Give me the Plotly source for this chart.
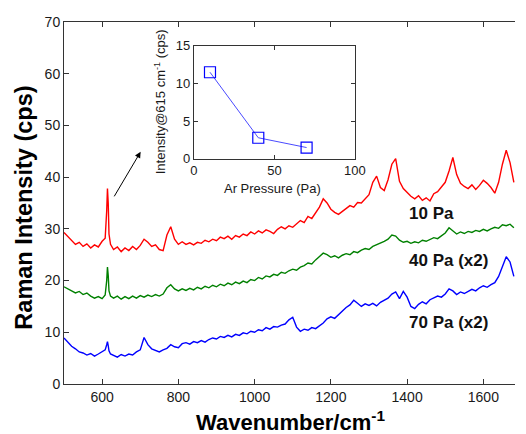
import plotly.graph_objects as go

# ---------------- data ----------------
wavenumber = [500, 510, 520, 530, 540, 550, 560, 570, 580, 590, 600,
              608, 612, 614, 616, 618, 622,
              630, 640, 650, 660, 670, 680, 690, 700, 710, 720, 730, 740, 750, 760, 770, 780, 790,
              800, 810, 820, 830, 840, 850, 860, 870, 880, 890, 900, 910, 920, 930, 940, 950, 960, 970, 980, 990,
              1000, 1010, 1020, 1030, 1040, 1050, 1060, 1070, 1080, 1090, 1100, 1110, 1120, 1130, 1140, 1150,
              1160, 1170, 1180, 1190, 1200, 1210, 1220, 1230, 1240, 1250, 1260, 1270, 1280, 1290, 1300,
              1310, 1320, 1330, 1340, 1350, 1360, 1370, 1380, 1390, 1400, 1410, 1420, 1430, 1440, 1450,
              1460, 1470, 1480, 1490, 1500, 1510, 1520, 1530, 1540, 1550, 1560, 1570, 1580, 1590, 1600,
              1610, 1620, 1630, 1640, 1650, 1660, 1670, 1680]

int_10pa = [29.3, 28.6, 27.8, 27.0, 27.4, 26.6, 27.1, 26.3, 26.9, 26.5, 27.6,
            28.2, 33.5, 37.8, 35.0, 29.0, 27.0,
            26.0, 26.5, 25.6, 26.3, 25.8, 26.6, 26.0, 26.8, 28.0, 27.4, 26.6, 26.9, 26.0, 25.8, 28.8, 30.4, 28.0,
            27.0, 27.5, 27.0, 27.3, 26.9, 27.4, 27.2, 27.8, 27.5, 28.0, 27.7, 28.4, 28.1, 28.6, 28.0, 28.7, 28.4, 29.0, 28.7, 29.4,
            29.0, 29.6, 29.2, 29.8, 29.5, 29.1, 29.9, 30.4, 30.0, 30.6, 30.3, 31.0, 31.6, 31.2, 32.4, 32.0,
            33.0, 34.2, 35.8, 35.0, 33.8, 33.2, 32.8, 33.4, 33.9, 34.5, 34.2, 35.1, 35.0, 35.8, 36.6,
            39.0, 40.2, 38.0, 37.4, 39.5, 42.5, 43.6, 39.2, 37.8, 37.0, 36.3, 35.8, 36.4, 35.5, 36.0,
            35.4, 36.8, 37.2, 38.0, 39.0, 41.2, 43.8, 40.5, 38.8, 38.2, 37.8, 38.5, 37.6, 38.4, 39.4,
            38.8, 38.0, 36.9, 39.0, 42.5, 45.2, 42.8, 39.0]

int_40pa = [18.8, 18.4, 18.0, 17.6, 17.9, 17.3, 17.6, 17.0, 16.6, 16.9, 16.5,
            17.2, 20.0, 22.6, 21.0, 18.0, 17.0,
            16.6, 17.0, 16.4, 16.9, 16.5, 17.0, 16.6, 17.1, 16.8, 17.2, 16.9, 17.3, 17.0, 17.4, 18.6, 19.2, 18.4,
            18.0, 18.4, 18.1, 18.5, 18.2, 18.7, 18.4, 18.9, 18.6, 19.1, 18.8, 19.3, 19.0, 19.5, 19.2, 19.7, 19.4, 19.9, 19.6, 20.2,
            20.0, 20.6, 20.3, 20.9, 20.7, 21.2, 21.0, 21.6, 21.4, 21.9, 22.2, 22.0, 22.6, 22.9, 23.4, 23.2,
            24.0, 24.6, 25.3, 25.0, 24.5, 24.8, 24.4, 24.9, 25.2, 25.0, 25.6, 25.4, 25.9, 26.2, 26.0,
            26.6, 26.9, 27.2, 27.6, 28.0, 28.8, 28.6, 27.8, 27.4, 27.6, 27.2, 27.5, 27.3, 27.8, 27.6,
            28.0, 28.3, 28.1, 28.6, 29.2, 30.2, 29.6, 29.0, 29.4, 29.1, 29.5, 29.3, 29.7, 29.5, 29.9,
            29.6, 30.0, 30.3, 30.1, 30.8, 30.6, 30.9, 30.2]

int_70pa = [8.9, 8.0, 7.3, 6.8, 6.2, 6.0, 5.6, 5.9, 5.4, 5.8, 6.3,
            6.6, 7.6, 8.2, 7.4, 6.4, 5.8,
            5.5, 5.2, 5.7, 5.4, 5.8, 5.6, 6.2, 6.6, 9.0, 7.6, 6.8, 6.5, 6.2, 6.6, 6.9, 7.6, 7.2,
            7.0, 7.8, 8.0, 7.7, 8.2, 8.0, 8.4, 8.1, 8.6, 8.9, 8.7, 9.2, 9.0, 9.4, 9.1, 9.6, 9.4, 9.9, 9.7, 10.2,
            10.0, 10.5, 10.3, 10.9, 10.6, 11.1, 11.0, 11.4, 11.6, 12.4, 12.9, 11.0, 10.2, 10.6, 10.4, 10.9,
            10.7, 11.3, 11.8, 12.6, 13.0, 12.7, 13.4, 14.2, 14.8, 15.3, 16.2, 15.6, 15.0, 15.5, 15.2,
            15.6, 15.1, 15.8, 16.2, 16.6, 17.4, 17.8, 16.5, 17.9, 16.8, 15.0, 14.6, 15.4, 15.9, 15.5,
            16.3, 16.6, 17.0, 16.8, 17.4, 18.4, 18.0, 17.3, 17.8, 17.5, 17.9, 18.3, 18.0, 18.6, 19.0,
            18.7, 19.2, 19.6, 20.8, 22.8, 24.6, 23.6, 20.8]

series_names = ["10 Pa", "40 Pa (x2)", "70 Pa (x2)"]
series_colors = ["#ff0000", "#008000", "#0000ff"]

pressure = [10, 40, 70]
peak_615 = [11.5, 2.8, 1.5]

main_xticks = [600, 800, 1000, 1200, 1400, 1600]
main_yticks = [0, 10, 20, 30, 40, 50, 60, 70]
inset_xticks = [0, 50, 100]
inset_yticks = [0, 5, 10, 15]

# ---------------- figure ----------------
FONT = "Liberation Sans, Arial, sans-serif"
AX = "#333333"
TXT = "#1a1a1a"

fig = go.Figure()
for y, name, col in zip([int_10pa, int_40pa, int_70pa], series_names, series_colors):
    fig.add_trace(go.Scatter(x=wavenumber, y=y, mode="lines", name=name,
                             line=dict(color=col, width=1.4), xaxis="x", yaxis="y"))

fig.add_trace(go.Scatter(x=pressure, y=peak_615, mode="lines+markers",
                         line=dict(color="#4a4aff", width=1),
                         marker=dict(symbol="square-open", size=11, color="#0000ff",
                                     line=dict(width=1.2, color="#0000ff")),
                         xaxis="x2", yaxis="y2"))

fig.update_layout(
    width=526, height=434,
    margin=dict(l=64, r=0, t=22, b=50),
    paper_bgcolor="white", plot_bgcolor="white",
    showlegend=False,
    font=dict(family=FONT, size=14, color=TXT),
    xaxis=dict(range=[500, 1683], tickvals=main_xticks, ticks="inside", ticklen=5,
               tickcolor=AX, showline=True, linecolor=AX, linewidth=1, mirror="ticks",
               showgrid=False, zeroline=False, tickfont=dict(size=14, color=TXT)),
    yaxis=dict(range=[0, 70], tickvals=main_yticks, ticks="inside", ticklen=5,
               tickcolor=AX, showline=True, linecolor=AX, linewidth=1, mirror=False,
               showgrid=False, zeroline=False, tickfont=dict(size=14, color=TXT)),
    xaxis2=dict(domain=[0.288, 0.645], anchor="y2", range=[0, 100], tickvals=inset_xticks,
                ticks="inside", ticklen=4, tickcolor=AX, showline=True, linecolor=AX,
                linewidth=1, mirror="ticks", showgrid=False, zeroline=False,
                tickfont=dict(size=13, color=TXT)),
    yaxis2=dict(domain=[0.622, 0.934], anchor="x2", range=[0, 15], tickvals=inset_yticks,
                ticks="inside", ticklen=4, tickcolor=AX, showline=True, linecolor=AX,
                linewidth=1, mirror="ticks", showgrid=False, zeroline=False,
                tickfont=dict(size=13, color=TXT)),
)

annotations = [
    dict(text="<b>Raman Intensity (cps)</b>", xref="paper", yref="paper", x=-0.088, y=0.488,
         textangle=-90, showarrow=False, font=dict(size=23.5, color="black"),
         xanchor="center", yanchor="middle"),
    dict(text="<b>Wavenumber/cm<sup>-1</sup></b>", xref="paper", yref="paper", x=0.502, y=-0.058,
         showarrow=False, font=dict(size=22, color="black"), xanchor="center", yanchor="top"),
    dict(text="Intensity@615 cm<sup>-1</sup> (cps)", xref="paper", yref="paper", x=0.212, y=0.78,
         textangle=-90, showarrow=False, font=dict(size=13, color=TXT),
         xanchor="center", yanchor="middle"),
    dict(text="Ar Pressure (Pa)", xref="paper", yref="paper", x=0.463, y=0.54,
         showarrow=False, font=dict(size=13, color=TXT), xanchor="center", yanchor="middle"),
    dict(x=701, y=44.9, ax=629.5, ay=36.0, xref="x", yref="y", axref="x", ayref="y",
         showarrow=True, arrowhead=2, arrowsize=1.2, arrowwidth=1, arrowcolor="black", text=""),
]
label_y = [33.0, 23.9, 11.8]
for name, yy in zip(series_names, label_y):
    annotations.append(dict(text="<b>%s</b>" % name, x=1399, y=yy, xref="x", yref="y",
                            showarrow=False, xanchor="left", yanchor="middle",
                            font=dict(size=17, color="#111111")))
fig.update_layout(annotations=annotations)

# remove the default page margin so the figure sits at the window's top-left corner
fig.write_html("out.html", config={"displayModeBar": False},
               post_script="document.body.style.margin='0';document.body.style.overflow='hidden';")
